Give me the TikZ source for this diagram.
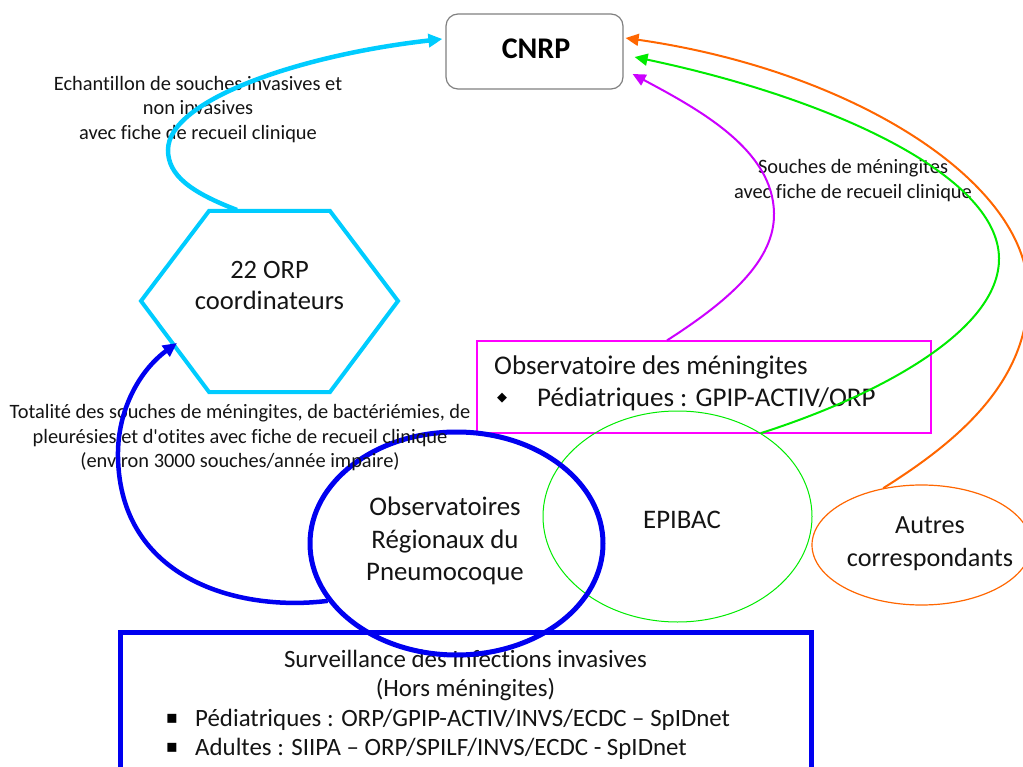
\documentclass[tikz,border=0pt]{standalone}
\usepackage{fontspec}
\setmainfont{Carlito}[Ligatures={TeX,NoCommon}]
\newfontfamily\symfont{DejaVu Sans}
\usetikzlibrary{arrows.meta,shapes.geometric,calc}
\definecolor{cyanc}{RGB}{0,204,255}
\definecolor{bluec}{RGB}{0,0,240}
\definecolor{magbox}{RGB}{255,0,255}
\definecolor{magarr}{RGB}{204,0,255}
\definecolor{greenc}{RGB}{0,235,0}
\definecolor{orangec}{RGB}{255,102,0}
\definecolor{grayc}{RGB}{128,128,128}
\definecolor{txt}{RGB}{20,20,20}
\begin{document}
\begin{tikzpicture}[x=1pt,y=-1pt,
  lbl/.style={align=center,inner sep=0,font=\fontsize{20.4}{24.5}\selectfont,text=txt},
  big/.style={align=center,inner sep=0,font=\fontsize{26.8}{32.5}\selectfont,text=txt},
  mid/.style={inner sep=0,font=\fontsize{24.9}{30}\selectfont,text=txt},
  magtxt/.style={inner sep=0,font=\fontsize{27}{32}\selectfont,text=txt},
  thinarrow/.style={line width=2pt,-{Triangle[length=13pt,width=12pt]}},
  thickarrow/.style={line width=4.5pt,-{Triangle[length=14pt,width=13pt]}}]
\useasboundingbox (0,0) rectangle (1023,767);
\clip (0,0) rectangle (1023,767);

% CNRP
\node[draw=grayc, line width=1.2pt, rounded corners=12pt, minimum width=177pt, minimum height=75pt, inner sep=0] (cnrp) at (534.5,51.5) {};
\node[inner sep=0, font=\fontsize{30}{36}\selectfont\bfseries] (cnrpt) at (536,49) {CNRP};

% magenta box
\node[draw=magbox, line width=1.2pt, minimum width=454pt, minimum height=92pt, inner sep=0] (mag) at (704,387) {};
\node[magtxt, anchor=west] (mag1) at (494,367) {Observatoire des méningites};
\node[inner sep=0, font=\symfont\fontsize{13}{13}\selectfont] (magb) at (502,398) {◆};
\node[magtxt, anchor=west] (mag2) at (537,399) {Pédiatriques : GPIP-ACTIV/ORP};

% blue rectangle
\node[draw=bluec, line width=5pt, minimum width=691pt, minimum height=160pt, inner sep=0] (surv) at (465.5,712) {};
\node[mid] (s1) at (465.5,659) {Surveillance des Infections invasives};
\node[mid] (s2) at (465.5,690) {(Hors méningites)};
\node[inner sep=0, font=\symfont\fontsize{18}{18}\selectfont] (sb1) at (172,719) {▪};
\node[mid, anchor=west] (s3) at (195,720) {Pédiatriques : ORP/GPIP-ACTIV/INVS/ECDC – SpIDnet};
\node[inner sep=0, font=\symfont\fontsize{18}{18}\selectfont] (sb2) at (172,748) {▪};
\node[mid, anchor=west] (s4) at (195,749) {Adultes : SIIPA – ORP/SPILF/INVS/ECDC - SpIDnet};

% hexagon
\draw[cyanc, line width=4pt] (209,211) -- (330,211) -- (398,301) -- (330,392) -- (209,392) -- (141,301) -- cycle;
\node[align=center, inner sep=0, font=\fontsize{26.5}{31}\selectfont, text=txt] (hex) at (269.5,285) {22 ORP\\coordinateurs};
\coordinate (hexTop) at (237,210);
\coordinate (hexLL) at (177,343);

% ellipses
\node[draw=greenc, line width=1pt, ellipse, minimum width=269pt, minimum height=211pt, inner sep=0] (epibac) at (677.5,516.5) {};
\node[big] (epit) at (682,520) {EPIBAC};
\node[draw=orangec, line width=1.2pt, ellipse, minimum width=219pt, minimum height=120pt, inner sep=0] (autres) at (921.5,545) {};
\node[big, font=\fontsize{26.2}{33}\selectfont] (autt) at (930,543.5) {Autres\\correspondants};
\node[draw=bluec, line width=5pt, ellipse, minimum width=293pt, minimum height=223pt, inner sep=0] (orp) at (456.5,543.5) {};
\node[big] (orpt) at (445,541) {Observatoires\\Régionaux du\\Pneumocoque};

% labels
\node[lbl] (l1) at (198,109.5) {Echantillon de souches invasives et\\non invasives\\avec fiche de recueil clinique};
\node[lbl] (l2) at (853,180.5) {Souches de méningites\\avec fiche de recueil clinique};
\node[lbl] (l3) at (240,438) {Totalité des souches de méningites, de bactériémies, de\\pleurésies et d\textquotesingle otites avec fiche de recueil clinique\\(environ 3000 souches/année impaire)};

% connectors
\draw[cyanc, thickarrow] (hexTop) .. controls (190,192) and (168,175) .. (168,150)
   .. controls (168,100) and (300,55) .. ($(cnrp.west)+(-3,-12.5)$);
\draw[magarr, thinarrow] ($(mag.north)+(-37,0)$) .. controls (730,300) and (775,260) .. (774,213)
   .. controls (773,150) and (700,110) .. ($(cnrp.east)+(9,22.5)$);
\draw[greenc, thinarrow] (epibac.45) .. controls (880,395) and (1000,330) .. (999,258)
   .. controls (998,175) and (830,98) .. ($(cnrp.east)+(11,5.5)$);
\draw[orangec, thinarrow] (autres.124) .. controls (960,440) and (1030,380) .. (1028,290)
   .. controls (1026,180) and (850,70) .. ($(cnrp.east)+(2,-13.5)$);
\draw[bluec, thickarrow] (orp.204) .. controls (240,612) and (120,580) .. (118,457)
   .. controls (117,410) and (140,370) .. (hexLL);
\end{tikzpicture}
\end{document}
